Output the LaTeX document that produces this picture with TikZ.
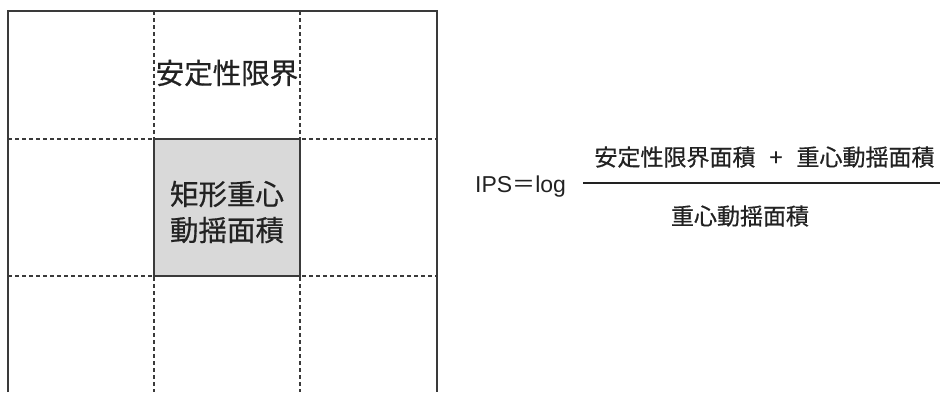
\documentclass[tikz,border=0pt]{standalone}
\usepackage{fontspec}
\setmainfont{Noto Sans CJK JP}[FakeBold=0.6]
\newfontfamily\lat{Liberation Sans}
\newfontfamily\cjk{Noto Sans CJK JP}
\definecolor{ink}{HTML}{222222}
\definecolor{edge}{HTML}{3A3A3A}
\definecolor{core}{HTML}{D9D9D9}
\begin{document}
\begin{tikzpicture}[x=1pt,y=-1pt,
  grid/.style={draw=edge,line width=1.4pt,dash pattern=on 4pt off 3pt},
  frame/.style={draw=edge,line width=1.6pt},
  bigtxt/.style={text=ink,font=\fontsize{28.5}{36}\selectfont,inner sep=0pt},
  midtxt/.style={text=ink,font=\fontsize{23}{28}\selectfont,inner sep=0pt}]
\useasboundingbox (0,0) rectangle (940,392);
% grid lines
\coordinate (tl) at (8,11);
\coordinate (tr) at (437,11);
\coordinate (bl) at (8,392);
\coordinate (br) at (437,392);
\draw[grid] (154,11) -- (154,392);
\draw[grid] (300,11) -- (300,392);
\draw[grid] (8,139) -- (437,139);
\draw[grid] (8,276) -- (437,276);
\node[draw=edge,line width=1.5pt,fill=core,minimum width=146pt,minimum height=137pt,inner sep=0pt] (coreb) at (227,207.5) {};
\node[bigtxt,align=center] (coret) at (227,212) {矩形重心\\動揺面積};
\draw[frame] (bl) -- (tl) -- (tr) -- (br);
\node[bigtxt,fill=white,inner xsep=1pt] (lim) at (227,73) {安定性限界};
% formula
\node[text=ink,font=\fontsize{23}{26}\selectfont,inner sep=0pt,anchor=west] (ips) at (475,187) {{\lat IPS}{\cjk ＝}{\lat log}};
\coordinate (fl) at (583,183);
\coordinate (fr) at (940,183);
\draw[draw=ink,line width=1.6pt] (fl) -- (fr);
\node[midtxt] (num) at (764.5,157) {安定性限界面積 \ \,+\, \ 重心動揺面積};
\node[midtxt] (den) at (740,216) {重心動揺面積};
\end{tikzpicture}
\end{document}
